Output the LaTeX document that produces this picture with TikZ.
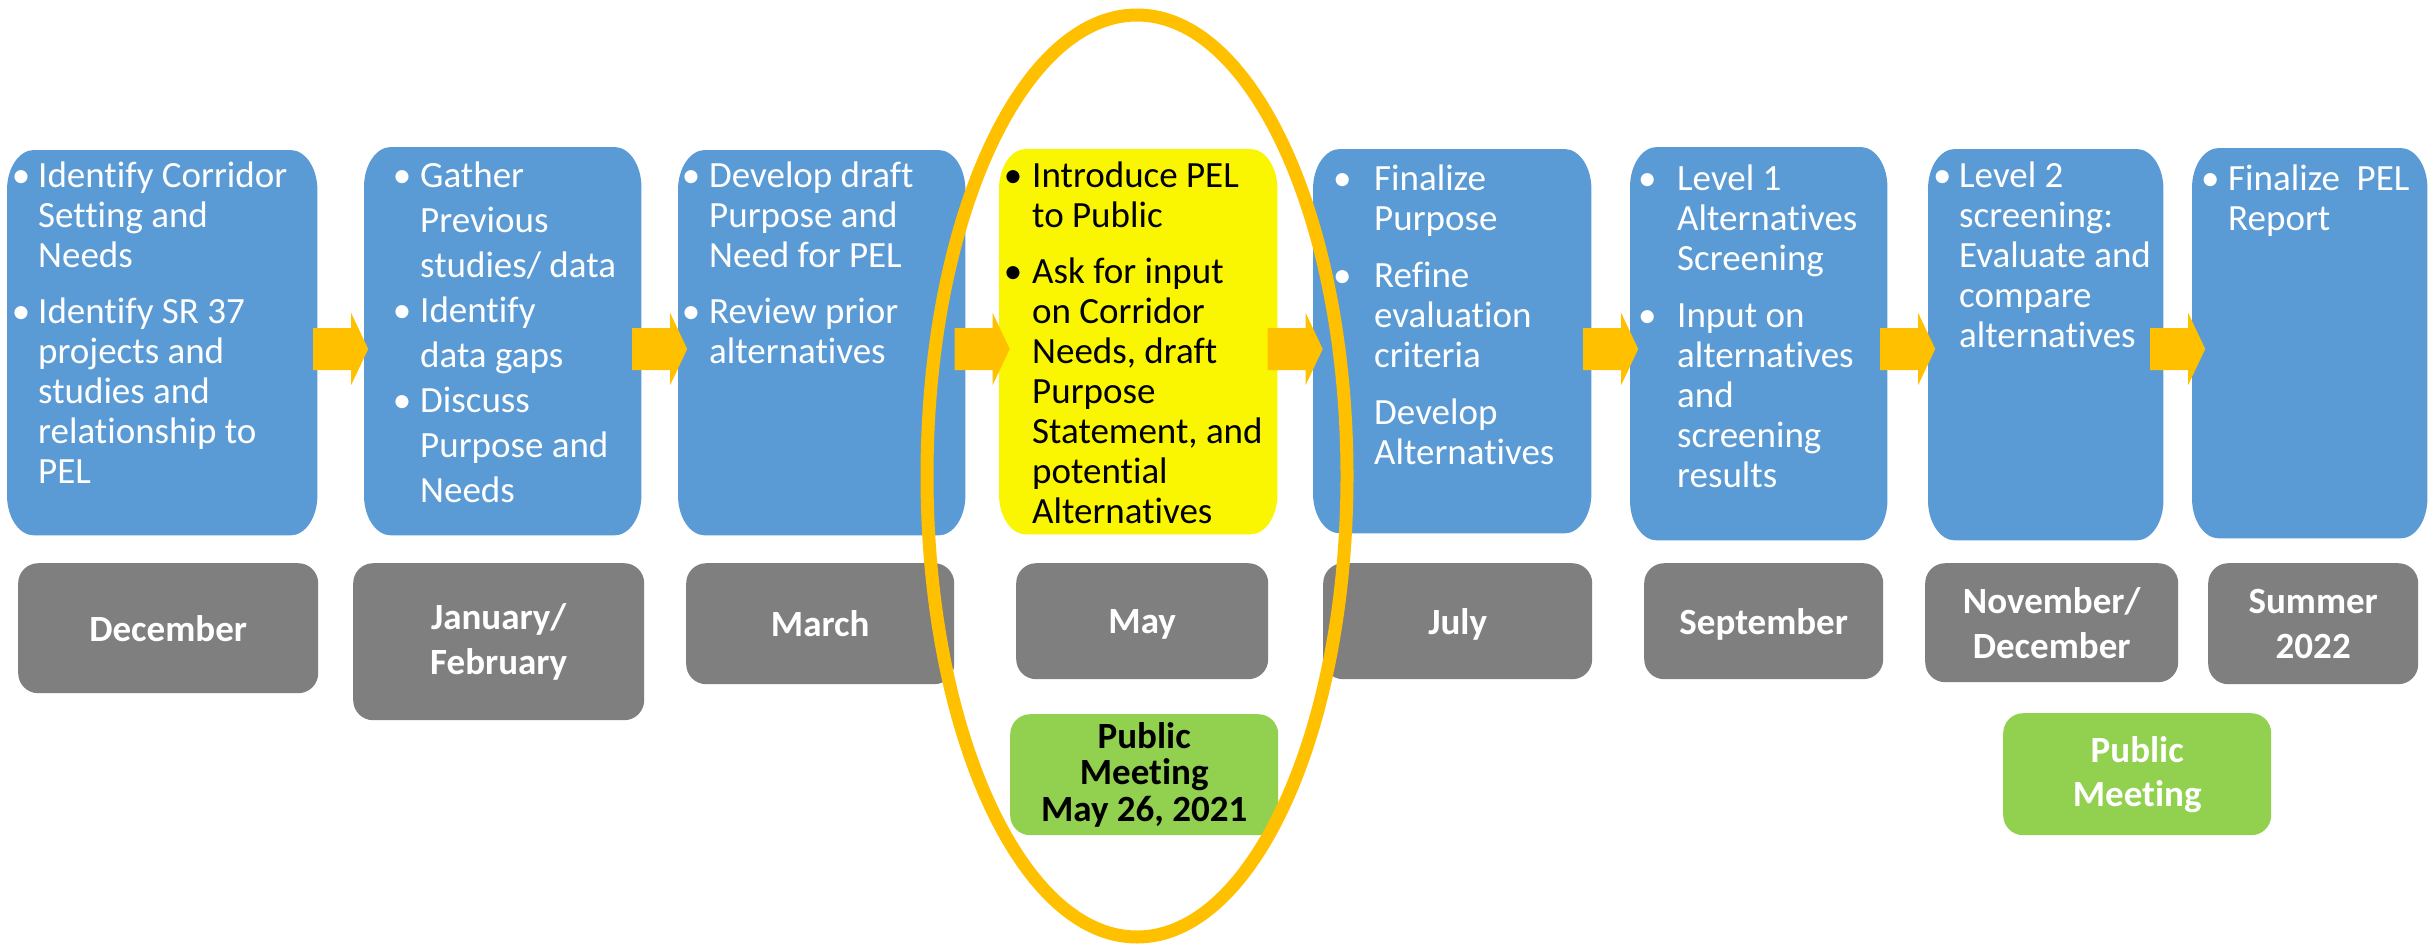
\documentclass[tikz,border=0pt]{standalone}
\usepackage{fontspec}
\setmainfont{Carlito}[RawFeature={-liga;-clig}]
\usetikzlibrary{calc,shapes.geometric}
\definecolor{boxblue}{HTML}{5B9BD5}
\definecolor{boxyellow}{HTML}{FAF500}
\definecolor{boxgray}{HTML}{7F7F7F}
\definecolor{boxgreen}{HTML}{92D050}
\definecolor{arrowc}{HTML}{FFC000}
% bullet list block: #1 baselineskip, #2 parskip, #3 content
\newcommand\blist[3]{\begin{minipage}[t]{400pt}\fontsize{37}{#1}\selectfont\setlength{\parskip}{#2pt}#3\end{minipage}}
% bullet item: #1 bullet centre offset, #2 text offset, #3 text
\newcommand\bitem[3]{\noindent\hangindent=#2pt\hangafter=1\rlap{\hspace*{#1pt}\makebox[0pt]{\textbullet}}\hspace*{#2pt}#3\par}
\newcommand\pitem[2]{\noindent\hangindent=#1pt\hangafter=0 #2\par}
\newcommand\nodepth[1]{\raisebox{0pt}[\height][0pt]{#1}}
% filled box with elliptical corners over the (invisible) node #1
\newcommand\roundfill[2]{%
  \fill[#2] ($(#1.north west)+(0,40)$) arc[start angle=180,end angle=90,x radius=27pt,y radius=40pt]
    -- ($(#1.north east)+(-27,0)$) arc[start angle=90,end angle=0,x radius=27pt,y radius=40pt]
    -- ($(#1.south east)+(0,-40)$) arc[start angle=0,end angle=-90,x radius=27pt,y radius=40pt]
    -- ($(#1.south west)+(27,0)$) arc[start angle=-90,end angle=-180,x radius=27pt,y radius=40pt]
    -- cycle;}
\newcommand\flowarrow[2]{%
  \coordinate (m) at ($(#1.east |- ay)!0.5!(#2.west |- ay)$);
  \fill[arrowc] ($(m)+(-27.5,-21)$) -- ($(m)+(10.5,-21)$) -- ($(m)+(10.5,-36)$) -- ($(m)+(27.5,0)$)
     -- ($(m)+(10.5,36)$) -- ($(m)+(10.5,21)$) -- ($(m)+(-27.5,21)$) -- cycle;}
\begin{document}
\begin{tikzpicture}[x=1pt,y=-1pt,
  bluebox/.style={inner sep=0pt, anchor=north west},
  btext/.style={inner sep=0pt, anchor=base west, text=white},
  ytext/.style={btext, text=black},
  datebox/.style={fill=boxgray, rounded corners=20pt, inner sep=0pt, anchor=north west,
     text=white, align=center, font=\bfseries\fontsize{37}{45}\selectfont},
  greenbox/.style={datebox, fill=boxgreen},
  ring/.style={draw=arrowc, line width=13pt, ellipse, inner sep=0pt}]
\useasboundingbox (0,0) rectangle (2433,945);
\fill[white] (0,0) rectangle (2433,945);
\coordinate (ay) at (0,349);

% process boxes
\node[bluebox, minimum width=310pt, minimum height=385pt] (b1) at (7,150) {};
\node[bluebox, minimum width=277pt, minimum height=388pt] (b2) at (364,147) {};
\node[bluebox, minimum width=287pt, minimum height=385pt] (b3) at (678,150) {};
\node[bluebox, minimum width=278pt, minimum height=385pt] (b4) at (999,149) {};
\node[bluebox, minimum width=278pt, minimum height=384pt] (b5) at (1313,149) {};
\node[bluebox, minimum width=257pt, minimum height=393pt] (b6) at (1630,147) {};
\node[bluebox, minimum width=235pt, minimum height=391pt] (b7) at (1928,149) {};
\node[bluebox, minimum width=235pt, minimum height=390pt] (b8) at (2192,148) {};
\roundfill{b1}{boxblue}
\roundfill{b2}{boxblue}
\roundfill{b3}{boxblue}
\roundfill{b4}{boxyellow}
\roundfill{b5}{boxblue}
\roundfill{b6}{boxblue}
\roundfill{b7}{boxblue}
\roundfill{b8}{boxblue}

% texts
\node[btext] (t1) at (7,187) {\blist{40}{16}{%
  \bitem{14}{31}{Identify Corridor\newline Setting and\newline Needs}%
  \bitem{14}{31}{Identify SR 37\newline projects and\newline studies and\newline relationship to\newline PEL}}};
\node[btext] (t2) at (364,187) {\blist{45}{0}{%
  \bitem{38}{56}{Gather\newline Previous\newline studies/ data}%
  \bitem{38}{56}{Identify\newline data gaps}%
  \bitem{38}{56}{Discuss\newline Purpose and\newline Needs}}};
\node[btext] (t3) at (678,187) {\blist{40}{16}{%
  \bitem{13}{31}{Develop draft\newline Purpose and\newline Need for PEL}%
  \bitem{13}{31}{Review prior\newline alternatives}}};
\node[ytext] (t4) at (999,187) {\blist{40}{16}{%
  \bitem{14}{33}{Introduce PEL\newline to Public}%
  \bitem{14}{33}{Ask for input\newline on Corridor\newline Needs, draft\newline Purpose\newline Statement, and\newline potential\newline Alternatives}}};
\node[btext] (t5) at (1313,190) {\blist{40}{17}{%
  \bitem{29}{61}{Finalize\newline Purpose}%
  \bitem{29}{61}{Refine\newline evaluation\newline criteria}%
  \pitem{61}{Develop\newline Alternatives}}};
\node[btext] (t6) at (1630,190) {\blist{40}{17}{%
  \bitem{17}{47}{Level 1\newline Alternatives\newline Screening}%
  \bitem{17}{47}{Input on\newline alternatives\newline and\newline screening\newline results}}};
\node[btext] (t7) at (1928,187) {\blist{40}{0}{%
  \bitem{14}{31}{Level 2\newline screening:\newline Evaluate and\newline compare\newline alternatives}}};
\node[btext] (t8) at (2192,190) {\blist{40}{0}{%
  \bitem{18}{36}{Finalize~~PEL\newline Report}}};

% arrows
\flowarrow{b1}{b2}
\flowarrow{b2}{b3}
\flowarrow{b3}{b4}
\flowarrow{b4}{b5}
\flowarrow{b5}{b6}
\flowarrow{b6}{b7}
\flowarrow{b7}{b8}

% dates
\node[datebox, minimum width=300pt, minimum height=130pt] (d1) at (18,563) {December};
\node[datebox, minimum width=291pt, minimum height=157pt] (d2) at (353,563) {January/\\February};
\node[datebox, minimum width=268pt, minimum height=121pt] (d3) at (686,563) {March};
\node[datebox, minimum width=252pt, minimum height=116pt] (d4) at (1016,563) {\nodepth{May}};
\node[datebox, minimum width=269pt, minimum height=116pt] (d5) at (1323,563) {\nodepth{July}};
\node[datebox, minimum width=239pt, minimum height=116pt] (d6) at (1644,563) {\nodepth{September}};
\node[datebox, minimum width=253pt, minimum height=119pt] (d7) at (1925,563) {November/\\December};
\node[datebox, minimum width=210pt, minimum height=121pt] (d8) at (2208,563) {Summer\\2022};

% public meetings
\node[greenbox, text=black, font=\bfseries\fontsize{37}{36.5}\selectfont,
      minimum width=268pt, minimum height=121pt] (g1) at (1010,714) {Public\\Meeting\\May 26, 2021};
\node[greenbox, font=\bfseries\fontsize{37}{44}\selectfont,
      minimum width=268pt, minimum height=122pt] (g2) at (2003,713) {Public\\Meeting};

% highlight ring
\node[ring, minimum width=420pt, minimum height=922pt] (hl) at (1137,476) {};
\end{tikzpicture}
\end{document}
